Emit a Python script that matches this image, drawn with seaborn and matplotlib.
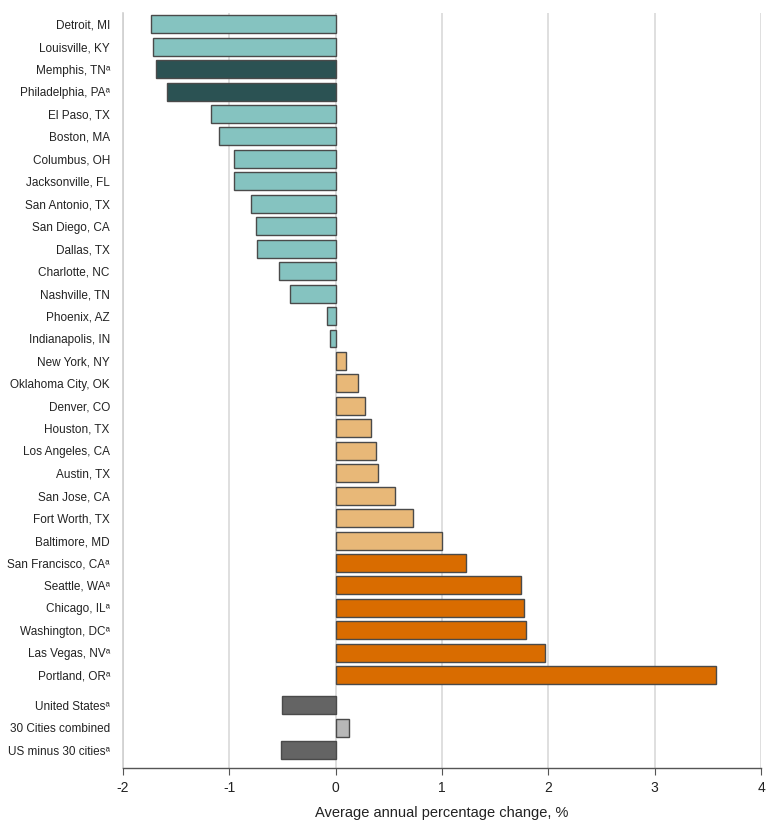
import matplotlib
matplotlib.use('Agg')
import matplotlib.pyplot as plt
import seaborn as sns
import pandas as pd
import numpy as np

# Daten: Städte (von oben nach unten) und jährliche Veränderung in %
cities = ['Detroit, MI', 'Louisville, KY', 'Memphis, TNᵃ', 'Philadelphia, PAᵃ', 'El Paso, TX',
          'Boston, MA', 'Columbus, OH', 'Jacksonville, FL', 'San Antonio, TX', 'San Diego, CA',
          'Dallas, TX', 'Charlotte, NC', 'Nashville, TN', 'Phoenix, AZ', 'Indianapolis, IN',
          'New York, NY', 'Oklahoma City, OK', 'Denver, CO', 'Houston, TX', 'Los Angeles, CA',
          'Austin, TX', 'San Jose, CA', 'Fort Worth, TX', 'Baltimore, MD', 'San Francisco, CAᵃ',
          'Seattle, WAᵃ', 'Chicago, ILᵃ', 'Washington, DCᵃ', 'Las Vegas, NVᵃ', 'Portland, ORᵃ']
city_change = [-1.74, -1.72, -1.69, -1.59, -1.17, -1.10, -0.96, -0.96, -0.80, -0.75,
               -0.74, -0.53, -0.43, -0.08, -0.05, 0.10, 0.21, 0.28, 0.33, 0.38,
               0.40, 0.56, 0.73, 1.00, 1.23, 1.74, 1.77, 1.79, 1.97, 3.58]
city_group = ['dec'] * 2 + ['dec_sig'] * 2 + ['dec'] * 11 + ['inc'] * 9 + ['inc_sig'] * 6

totals = ['United Statesᵃ', '30 Cities combined', 'US minus 30 citiesᵃ']
total_change = [-0.50, 0.13, -0.51]
total_group = ['total_sig', 'total', 'total_sig']

palette = {'dec': '#85c3c0', 'dec_sig': '#2b5253', 'inc': '#e8b878', 'inc_sig': '#d96c00',
           'total_sig': '#646464', 'total': '#b7b7b7'}

# Positionen: Städte, dann kleine Lücke, dann Summen
pos = list(np.arange(len(cities))) + list(len(cities) + 1 / 3 + np.arange(len(totals)))
df = pd.DataFrame({'label': cities + totals,
                   'change': city_change + total_change,
                   'group': city_group + total_group,
                   'pos': pos})

sns.set_style('white')
plt.rcParams['font.family'] = ['Liberation Sans', 'DejaVu Sans']

fig = plt.figure(figsize=(7.8, 8.23), dpi=100)
ax = fig.add_axes([123 / 780, 55 / 823, 638 / 780, 755 / 823])

sns.barplot(data=df, x='change', y='pos', hue='group', palette=palette, orient='h',
            native_scale=True, dodge=False, legend=False, saturation=1,
            edgecolor='#4a4a4a', linewidth=1, ax=ax, zorder=3)

ax.set_xlim(-2, 4)
ax.set_ylim(pos[-1] + 0.8, -0.5)
ax.set_yticks(pos)
ax.set_yticklabels(df['label'], fontsize=8.5, color='#222222')
ax.set_xticks([-2, -1, 0, 1, 2, 3, 4])
ax.set_xticklabels(['-2', '-1', '0', '1', '2', '3', '4'], fontsize=10, color='#222222')
ax.set_xlabel('Average annual percentage change, %', fontsize=10.5, color='#222222', labelpad=8)
ax.set_ylabel('')

ax.grid(axis='x', color='#d9d9d9', linewidth=1.2, zorder=0)
ax.grid(axis='y', visible=False)
ax.set_axisbelow(True)
for s in ['top', 'right']:
    ax.spines[s].set_visible(False)
ax.spines['left'].set_color('#d0d0d0')
ax.spines['left'].set_linewidth(1.2)
ax.spines['bottom'].set_color('#555555')
ax.spines['bottom'].set_linewidth(1)
ax.tick_params(axis='x', bottom=True, length=5, color='#555555', pad=4)
ax.tick_params(axis='y', left=False, pad=6)

fig.savefig('out.png', dpi=100)
